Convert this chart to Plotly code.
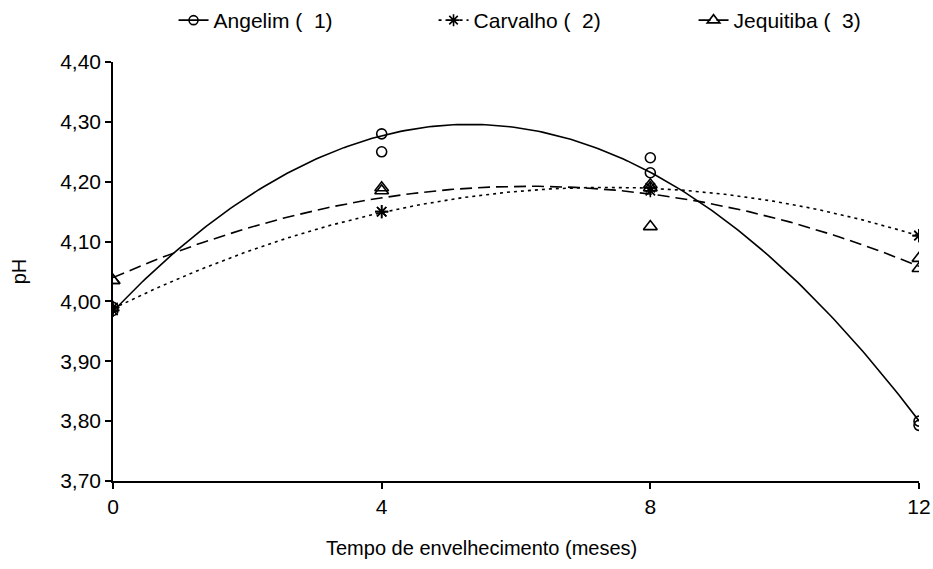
import numpy as np
import plotly.graph_objects as go

# Ageing time (months) and measured pH readings per sampling point
meses_a = [0, 0, 4, 4, 8, 8, 12, 12]
ph_angelim = [3.985, 3.99, 4.28, 4.25, 4.24, 4.215, 3.80, 3.793]

meses_c = [0, 0, 4, 4, 8, 8, 12, 12]
ph_carvalho = [3.985, 3.99, 4.15, 4.15, 4.19, 4.185, 4.11, 4.11]

meses_j = [0, 0, 4, 4, 8, 8, 8, 12, 12]
ph_jequitiba = [4.035, 4.035, 4.185, 4.19, 4.125, 4.19, 4.195, 4.072, 4.055]

nomes = ["Angelim (\u00a0\u00a01)", "Carvalho (\u00a0\u00a02)", "Jequitiba (\u00a0\u00a03)"]
x_ticks = [0, 4, 8, 12]
titulo_x = "Tempo de envelhecimento (meses)"
titulo_y = "pH"

FONT = "Liberation Sans, Arial, sans-serif"
FS = 21

estilos = [
    dict(x=meses_a, y=ph_angelim, dash="solid", symbol="circle-open", size=10),
    dict(x=meses_c, y=ph_carvalho, dash="3px,4px", symbol="asterisk-open", size=11),
    dict(x=meses_j, y=ph_jequitiba, dash="12px,6px", symbol="triangle-up-open", size=12),
]

fig = go.Figure()
xs = np.linspace(0, 12, 200)

for nome, est in zip(nomes, estilos):
    # second-order polynomial trend of pH over time
    coef = np.polyfit(est["x"], est["y"], 2)
    ys = np.polyval(coef, xs)
    fig.add_trace(go.Scatter(
        x=xs, y=ys, mode="lines", showlegend=False, hoverinfo="skip",
        line=dict(color="black", width=1.6, dash=est["dash"]),
    ))
    fig.add_trace(go.Scatter(
        x=est["x"], y=est["y"], mode="markers", showlegend=False,
        marker=dict(symbol=est["symbol"], size=est["size"], color="black",
                    line=dict(color="black", width=1.6)),
    ))
    # legend entry: line sample with marker
    fig.add_trace(go.Scatter(
        x=[None], y=[None], mode="lines+markers", name=nome,
        line=dict(color="black", width=1.6, dash=est["dash"]),
        marker=dict(symbol=est["symbol"], size=est["size"] - 1, color="black",
                    line=dict(color="black", width=1.6)),
    ))

# x-axis title, centred under the chart area
fig.add_annotation(
    text=titulo_x, xref="paper", yref="paper", x=0.457, y=-0.16,
    xanchor="center", yanchor="middle", showarrow=False,
    font=dict(size=20, family=FONT, color="black"),
)

fig.update_layout(
    width=933, height=569,
    margin=dict(l=113, r=14, t=62, b=88, autoexpand=False),
    paper_bgcolor="white", plot_bgcolor="white",
    separators=",.",
    font=dict(family=FONT, size=FS, color="black"),
    legend=dict(
        orientation="h", x=0.186, y=1.0, xanchor="left", yanchor="top",
        yref="container", xref="container", font=dict(size=FS, family=FONT),
        bgcolor="rgba(0,0,0,0)", entrywidth=215, entrywidthmode="pixels",
    ),
    xaxis=dict(
        range=[0, 12], tickvals=x_ticks, ticks="outside", ticklen=6,
        showline=True, linecolor="black", linewidth=1.6, tickcolor="black",
        tickwidth=1.6, showgrid=False, zeroline=False,
        tickfont=dict(size=FS),
    ),
    yaxis=dict(
        range=[3.70, 4.40], dtick=0.1, tick0=3.7, tickformat=".2f",
        ticks="outside", ticklen=6,
        showline=True, linecolor="black", linewidth=1.6, tickcolor="black",
        tickwidth=1.6, showgrid=False, zeroline=False,
        title=dict(text=titulo_y, font=dict(size=20), standoff=28),
        tickfont=dict(size=FS),
    ),
)

fig.write_html("out.html")
